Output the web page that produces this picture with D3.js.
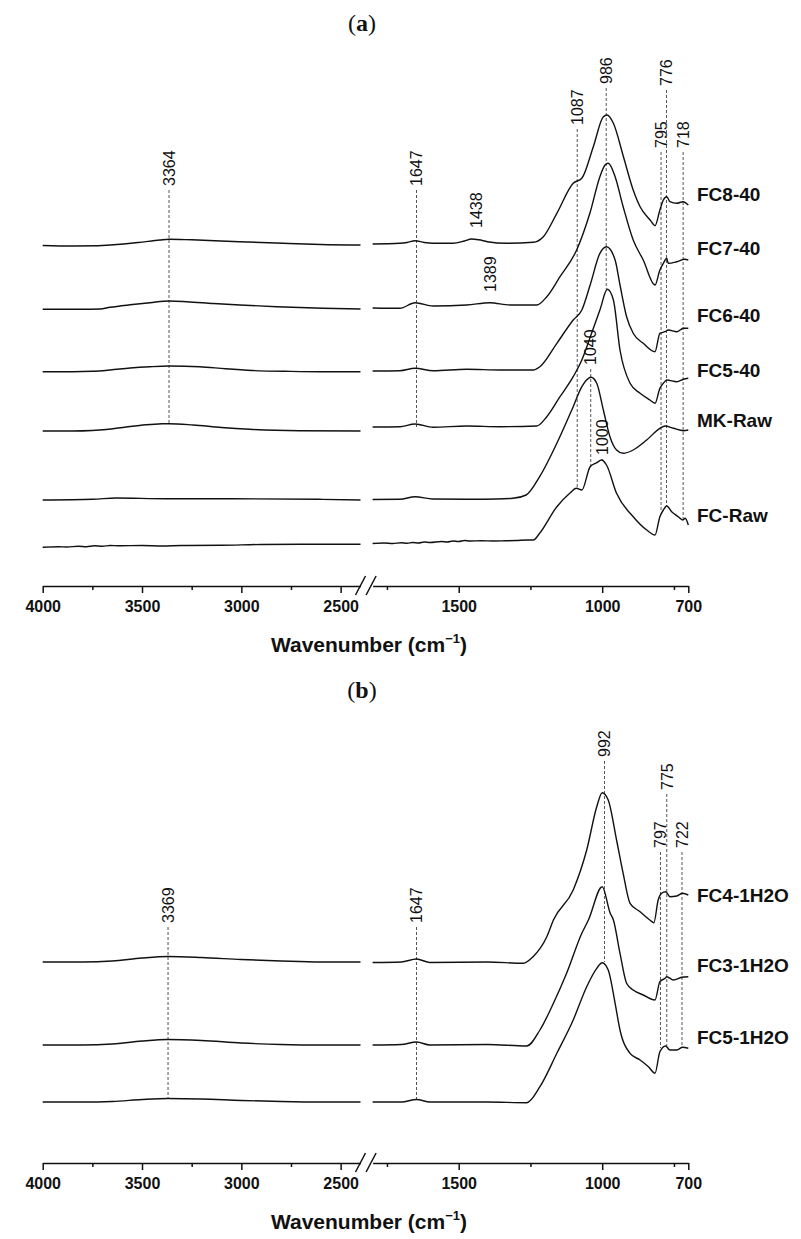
<!DOCTYPE html>
<html>
<head>
<meta charset="utf-8">
<script src="https://cdn.jsdelivr.net/npm/d3@7"></script>
<style>
  html, body { margin: 0; padding: 0; background: #fff; }
  svg { display: block; }
</style>
</head>
<body>
<svg id="chart" width="801" height="1239"></svg>
<script>
// ---------- axis ticks (broken wavenumber axis) ----------
const highRange = [4000, 2400];
const lowRange = [1800, 700];
const majorTicksHigh = [4000, 3500, 3000, 2500];
const minorTicksHigh = [3750, 3250, 2750];
const majorTicksLow = [1500, 1000, 700];
const minorTicksLow = [1750, 1250, 750];

// ---------- panel (a): FTIR spectra, [wavenumber, absorbance (a.u., offset)] ----------
const namesA = ["FC8-40", "FC7-40", "FC6-40", "FC5-40", "MK-Raw", "FC-Raw"];

const fc8_40 = [
  [4000,34.05],[3850,34.0],[3720,34.02],[3660,34.1],[3520,34.35],[3410,34.6],[3364,34.68],[3250,34.62],[3010,34.43],[2790,34.27],[2600,34.15],[2400,34.1],
  [1800,34.2],[1705,34.27],[1680,34.35],[1652,34.53],[1620,34.35],[1590,34.27],[1520,34.27],[1480,34.5],[1455,34.7],[1430,34.62],[1400,34.43],
  [1333,34.27],[1240,34.37],[1205,34.93],[1158,37.27],[1101,40.27],[1071,40.77],[1031,43.93],[996,46.93],[983,47.1],[961,46.27],[926,42.93],
  [892,39.6],[868,37.93],[833,36.6],[816,36.03],[799,37.6],[787,38.6],[775,38.93],[764,38.43],[740,38.27],[719,38.43],[700,38.1]
];
const fc7_40 = [
  [4000,27.67],[3800,27.67],[3712,27.7],[3661,27.87],[3560,28.12],[3460,28.33],[3363,28.5],[3275,28.43],[3140,28.25],[3007,28.1],[2822,27.93],[2589,27.77],[2400,27.7],
  [1800,27.8],[1705,27.77],[1652,28.33],[1589,28.0],[1472,28.1],[1391,28.33],[1321,28.1],[1228,28.1],[1193,28.93],[1147,30.93],[1089,33.6],
  [1043,37.27],[1008,40.93],[990,42.1],[979,42.27],[955,40.93],[927,37.93],[892,34.6],[857,32.6],[816,30.1],[799,31.6],[787,32.27],[775,32.77],
  [770,32.27],[740,32.43],[712,32.67],[700,32.6]
];
const fc6_40 = [
  [4000,21.43],[3850,21.43],[3750,21.47],[3661,21.6],[3560,21.8],[3460,21.93],[3363,22.0],[3210,21.93],[3080,21.72],[2945,21.55],[2750,21.46],[2600,21.43],[2400,21.43],
  [1800,21.5],[1705,21.53],[1652,21.77],[1589,21.53],[1472,21.67],[1356,21.6],[1240,21.6],[1217,21.93],[1158,24.27],[1101,26.6],[1071,27.6],
  [1042,30.1],[1008,33.27],[985,33.93],[955,32.6],[938,30.1],[915,26.93],[892,25.27],[857,24.27],[816,23.43],[799,25.27],[781,25.43],
  [770,25.6],[740,25.43],[717,25.77],[700,25.77]
];
const fc5_40 = [
  [4000,15.5],[3850,15.5],[3750,15.55],[3680,15.65],[3580,15.9],[3480,16.12],[3400,16.22],[3364,16.23],[3243,16.1],[3100,15.85],[2958,15.67],[2707,15.53],[2400,15.5],
  [1800,15.9],[1705,15.93],[1652,16.2],[1589,15.87],[1472,16.0],[1356,15.93],[1228,16.0],[1193,16.93],[1147,18.93],[1101,20.93],[1071,22.6],
  [1037,25.27],[1008,27.6],[982,29.67],[961,28.6],[938,23.6],[903,20.27],[868,19.27],[834,18.6],[816,18.27],[799,19.77],[787,20.27],
  [775,20.6],[740,20.43],[717,20.67],[700,20.77]
];
const mk_raw = [
  [4000,8.6],[3748,8.67],[3630,8.8],[3380,8.73],[3045,8.73],[2609,8.67],[2400,8.6],
  [1800,8.65],[1705,8.67],[1652,8.93],[1590,8.7],[1415,8.67],[1311,8.77],[1265,9.1],[1218,10.93],[1158,14.27],[1101,17.93],[1071,19.93],
  [1048,20.77],[1039,20.87],[1019,20.27],[996,17.6],[973,14.93],[950,13.6],[927,13.27],[892,13.6],[845,14.6],[799,15.77],[781,16.0],
  [752,15.77],[717,15.53],[700,15.6]
];
const fc_raw = [
  [4000,3.87],[3920,3.92],[3880,3.9],[3820,3.97],[3780,3.93],[3740,4.02],[3700,3.98],[3660,4.05],[3620,4.02],[3500,4.05],[3400,4.0],[3300,4.05],
  [3100,4.07],[2900,4.15],[2700,4.17],[2400,4.17],
  [1800,4.25],[1760,4.3],[1730,4.25],[1700,4.32],[1680,4.27],[1660,4.35],[1640,4.3],[1620,4.4],[1600,4.35],[1560,4.45],[1540,4.4],
  [1520,4.5],[1500,4.45],[1480,4.55],[1460,4.5],[1420,4.52],[1380,4.5],[1340,4.52],[1300,4.55],[1260,4.6],[1240,4.6],[1218,5.27],
  [1158,7.93],[1113,9.27],[1090,9.77],[1071,9.6],[1042,11.93],[1019,12.33],[1002,12.6],[985,12.1],[950,9.27],[892,6.93],[845,5.6],
  [816,5.1],[799,6.93],[787,7.6],[775,8.0],[758,7.43],[735,6.93],[720,6.6],[711,6.77],[700,6.1]
];
const seriesA = [fc8_40, fc7_40, fc6_40, fc5_40, mk_raw, fc_raw];

// band assignments: wavenumber, label foot (a.u.), end of guide line (a.u.; null = no line)
const bandsA = [3364, 1647, 1438, 1389, 1087, 986, 795, 776, 718, 1040, 1000];
const bandFootA = [40.0, 40.0, 35.8, 29.4, 46.1, 50.2, 43.8, 50.0, 43.8, 22.1, 13.1];
const bandEndA = [16.3, 15.9, null, null, 9.8, 29.7, 7.6, 8.0, 6.6, 12.0, 12.6];

// ---------- panel (b) ----------
const namesB = ["FC4-1H2O", "FC3-1H2O", "FC5-1H2O"];

const fc4_1h2o = [
  [4000,20.1],[3800,20.1],[3650,20.2],[3500,20.5],[3369,20.65],[3200,20.55],[3000,20.35],[2800,20.2],[2600,20.1],[2400,20.1],
  [1800,20.05],[1700,20.1],[1647,20.4],[1600,20.05],[1400,20.1],[1275,19.97],[1241,20.63],[1193,22.63],[1170,24.3],[1101,27.3],
  [1054,31.3],[1019,35.63],[1000,37.03],[979,36.3],[950,32.3],[927,28.97],[903,25.97],[868,25.13],[834,24.3],[820,24.03],[805,26.3],
  [793,26.97],[779,27.13],[764,26.63],[740,26.7],[720,26.97],[700,26.8]
];
const fc3_1h2o = [
  [4000,11.8],[3800,11.8],[3650,11.9],[3500,12.2],[3369,12.35],[3200,12.25],[3000,12.0],[2800,11.85],[2600,11.8],[2400,11.8],
  [1800,11.8],[1700,11.85],[1647,12.1],[1600,11.8],[1400,11.85],[1263,11.7],[1217,13.3],[1170,15.97],[1124,18.97],[1071,22.97],
  [1048,24.3],[1000,27.63],[972,24.97],[961,24.3],[938,20.97],[915,17.97],[892,17.3],[857,16.8],[816,16.3],[799,18.13],[781,18.47],
  [775,18.63],[752,18.3],[723,18.57],[700,18.63]
];
const fc5_1h2o = [
  [4000,6.1],[3800,6.1],[3650,6.15],[3500,6.35],[3369,6.45],[3200,6.4],[3000,6.25],[2800,6.15],[2600,6.1],[2400,6.1],
  [1800,6.1],[1700,6.1],[1647,6.35],[1600,6.1],[1400,6.1],[1263,6.03],[1217,7.63],[1158,10.97],[1101,14.3],[1054,17.63],[1019,19.47],
  [1000,20.03],[979,19.3],[955,15.97],[938,13.3],[903,10.97],[868,10.3],[839,9.63],[816,8.97],[799,11.13],[779,11.7],[764,11.3],
  [740,11.3],[720,11.57],[700,11.47]
];
const seriesB = [fc4_1h2o, fc3_1h2o, fc5_1h2o];

const bandsB = [3369, 1647, 992, 797, 775, 722];
const bandFootB = [24.0, 24.0, 40.6, 31.5, 37.3, 31.5];
const bandEndB = [6.4, 6.4, 20.1, 11.5, 11.7, 11.6];

// ---------- drawing ----------
const svg = d3.select("#chart");
const FONT = "Arial, 'Liberation Sans', Helvetica, sans-serif";

const xHigh = d3.scaleLinear().domain(highRange).range([42.7, 360.5]);
const xLow = d3.scaleLinear().domain(lowRange).range([372.6, 688.3]);
const X = w => (w >= 2000 ? xHigh(w) : xLow(w));

function drawPanel(p) {
  const g = svg.append("g");
  const y = d3.scaleLinear().domain([0, 50]).range([p.axisY, p.axisY - 500]);

  // panel letter
  const t = g.append("text")
    .attr("x", 362).attr("y", p.titleY)
    .attr("text-anchor", "middle")
    .attr("font-family", "'Liberation Serif', 'DejaVu Serif', serif")
    .attr("font-size", 24).attr("fill", "#111");
  t.append("tspan").text("(");
  t.append("tspan").attr("font-weight", "bold").text(p.letter);
  t.append("tspan").text(")");

  // band guide lines and labels
  p.bands.forEach((wn, i) => {
    const xx = X(wn);
    const foot = y(p.foot[i]);
    if (p.end[i] !== null) {
      g.append("line")
        .attr("x1", xx).attr("x2", xx)
        .attr("y1", foot + 4).attr("y2", y(p.end[i]))
        .attr("stroke", "#555").attr("stroke-width", 1)
        .attr("stroke-dasharray", "3,2");
    }
    g.append("text")
      .attr("transform", `translate(${xx},${foot}) rotate(-90)`)
      .attr("dy", "0.36em")
      .attr("font-family", FONT).attr("font-size", 16)
      .attr("fill", "#111")
      .text(wn);
  });

  // spectra, one path per axis segment
  const line = d3.line()
    .x(d => X(d[0])).y(d => y(d[1]))
    .curve(d3.curveMonotoneX);
  p.series.forEach((s, i) => {
    const hi = s.filter(d => d[0] >= 2000);
    const lo = s.filter(d => d[0] < 2000);
    [hi, lo].forEach(part => {
      g.append("path").attr("d", line(part))
        .attr("fill", "none").attr("stroke", "#111")
        .attr("stroke-width", 1.4).attr("stroke-linejoin", "round");
    });
    const last = s[s.length - 1];
    g.append("text")
      .attr("x", 697).attr("y", y(last[1]) - p.labelLift[i])
      .attr("dy", "0.36em")
      .attr("font-family", FONT).attr("font-weight", "bold")
      .attr("font-size", 19).attr("fill", "#111")
      .text(p.names[i]);
  });

  // broken x axis
  const ax = g.append("g").attr("transform", `translate(0,${p.axisY})`);
  [[xHigh, majorTicksHigh, minorTicksHigh], [xLow, majorTicksLow, minorTicksLow]].forEach(([sc, maj, min]) => {
    const major = ax.append("g").call(
      d3.axisBottom(sc).tickValues(maj).tickSize(7).tickSizeOuter(0).tickPadding(8).tickFormat(d3.format("d")));
    const minor = ax.append("g").call(
      d3.axisBottom(sc).tickValues(min).tickSize(4).tickSizeOuter(0).tickFormat(""));
    minor.select(".domain").remove();
    [major, minor].forEach(a => {
      a.selectAll("path,line").attr("stroke", "#111").attr("stroke-width", 1.5);
      a.selectAll("text").attr("font-family", FONT).attr("font-weight", "bold")
        .attr("font-size", 16).attr("fill", "#111");
    });
  });
  // break marks
  [xHigh.range()[1], xLow.range()[0] - 1.5].forEach(cx => {
    ax.append("line")
      .attr("x1", cx - 5).attr("y1", 9).attr("x2", cx + 5).attr("y2", -10)
      .attr("stroke", "#111").attr("stroke-width", 1.5);
  });

  // axis title
  const at = g.append("text")
    .attr("x", 369).attr("y", p.axisY + 66)
    .attr("text-anchor", "middle")
    .attr("font-family", FONT).attr("font-weight", "bold")
    .attr("font-size", 21).attr("fill", "#111");
  at.append("tspan").text("Wavenumber (cm");
  at.append("tspan").attr("font-size", 13).attr("dy", -9).text("\u22121");
  at.append("tspan").attr("dy", 9).text(")");
}

drawPanel({
  letter: "a", titleY: 31, axisY: 586,
  series: seriesA, names: namesA, labelLift: [11, 12, 13, 8, 10, 10],
  bands: bandsA, foot: bandFootA, end: bandEndA
});
drawPanel({
  letter: "b", titleY: 698, axisY: 1163,
  series: seriesB, names: namesB, labelLift: [0, 12, 11],
  bands: bandsB, foot: bandFootB, end: bandEndB
});
</script>
</body>
</html>
